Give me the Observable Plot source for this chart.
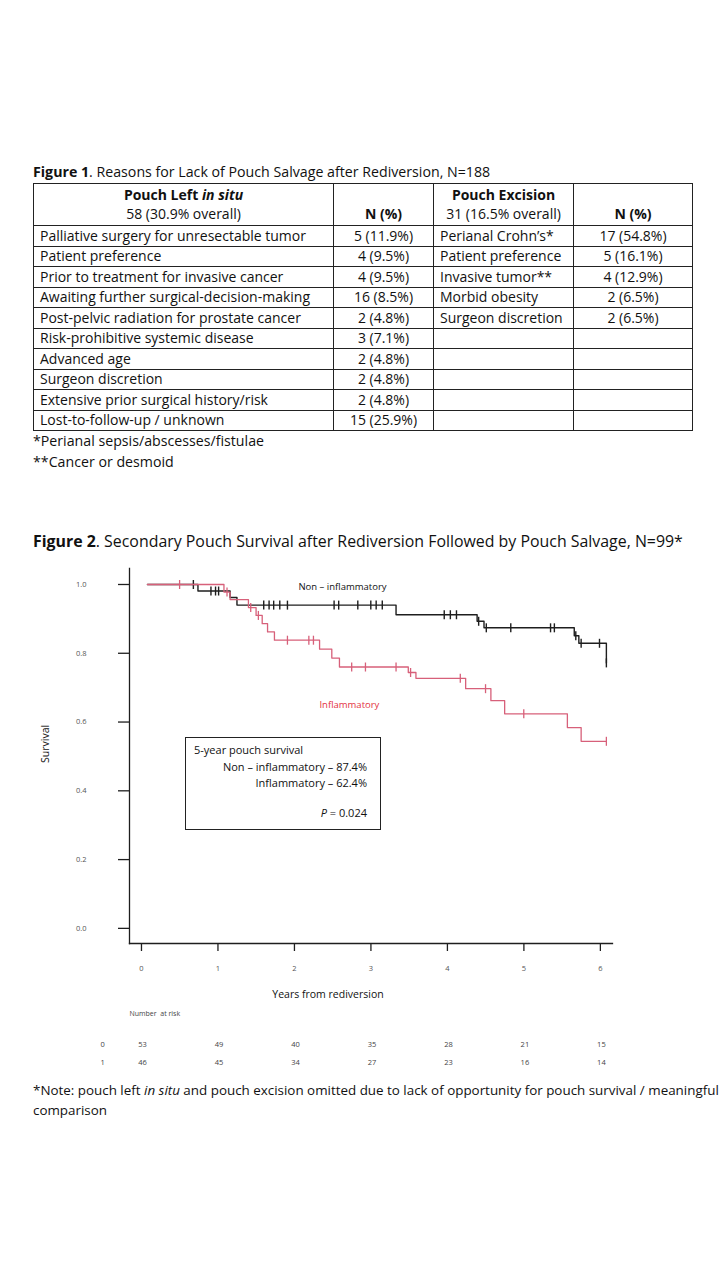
<!DOCTYPE html>
<html><head><meta charset="utf-8">
<script src="https://cdn.jsdelivr.net/npm/d3@7"></script>
<script src="https://cdn.jsdelivr.net/npm/@observablehq/plot@0.6"></script>
<style>
body{margin:0;background:#fff;font-family:"Open Sans",Lato,sans-serif;color:#111;}
#page{position:relative;width:720px;height:1280px;overflow:hidden;background:#fff;}
.cap{position:absolute;left:33px;font-size:14.2px;white-space:nowrap;line-height:18px;}
#tbl{position:absolute;left:33px;top:183px;border-collapse:collapse;table-layout:fixed;font-size:14px;}
#tbl td{border:1px solid #222;padding:0 6px;white-space:nowrap;overflow:hidden;line-height:18px;}
#tbl tr.body td{height:19.5px;}
#tbl tr.head td{height:40px;vertical-align:top;padding-top:1px;line-height:19px;}
.c{text-align:center;}
#chart{position:absolute;left:0;top:560px;}
#box{position:absolute;left:185px;top:737px;width:196px;height:93px;border:1.3px solid #222;font-size:11px;box-sizing:border-box;}
#box div{position:absolute;white-space:nowrap;}
</style></head>
<body><div id="page">
<div class="cap" style="top:163px"><b>Figure 1</b>. Reasons for Lack of Pouch Salvage after Rediversion, N=188</div>
<table id="tbl"></table>
<div class="cap" style="top:432px">*Perianal sepsis/abscesses/fistulae</div>
<div class="cap" style="top:453px">**Cancer or desmoid</div>
<div class="cap" style="top:532px;font-size:15.9px"><b>Figure 2</b>. Secondary Pouch Survival after Rediversion Followed by Pouch Salvage, N=99*</div>
<div id="chart"></div>
<div id="box">
  <div style="left:8px;top:4px">5-year pouch survival</div>
  <div style="right:13px;top:21px">Non – inflammatory – 87.4%</div>
  <div style="right:13px;top:37px">Inflammatory – 62.4%</div>
  <div style="right:13px;top:67px"><i>P</i> = 0.024</div>
</div>
<div class="cap" style="top:1080px;font-size:13.4px;line-height:20px">*Note: pouch left <i>in situ</i> and pouch excision omitted due to lack of opportunity for pouch survival / meaningful<br>comparison</div>
</div>
<script>
// ---- Figure 1 table data ----
const leftReasons = ["Palliative surgery for unresectable tumor","Patient preference","Prior to treatment for invasive cancer","Awaiting further surgical-decision-making","Post-pelvic radiation for prostate cancer","Risk-prohibitive systemic disease","Advanced age","Surgeon discretion","Extensive prior surgical history/risk","Lost-to-follow-up / unknown"];
const leftN = ["5 (11.9%)","4 (9.5%)","4 (9.5%)","16 (8.5%)","2 (4.8%)","3 (7.1%)","2 (4.8%)","2 (4.8%)","2 (4.8%)","15 (25.9%)"];
const rightReasons = ["Perianal Crohn’s*","Patient preference","Invasive tumor**","Morbid obesity","Surgeon discretion"];
const rightN = ["17 (54.8%)","5 (16.1%)","4 (12.9%)","2 (6.5%)","2 (6.5%)"];

// ---- Figure 2 data ----
const nonInfTimes = [0, 0.66, 1.08, 1.17, 3.25, 4.31, 4.40, 5.58, 5.64, 6.00];
const nonInfSurv  = [1, 0.981, 0.962, 0.940, 0.912, 0.893, 0.874, 0.851, 0.829, 0.772];
const nonInfCensor = [0.60, 0.83, 0.89, 0.93, 1.52, 1.59, 1.65, 1.73, 1.83, 2.44, 2.50, 2.75, 2.92, 2.99, 3.07, 3.88, 3.96, 4.04, 4.33, 4.43, 4.75, 5.27, 5.32, 5.60, 5.67, 5.91, 6.00];
const infTimes = [0, 1.00, 1.08, 1.32, 1.42, 1.50, 1.57, 1.66, 2.25, 2.41, 2.51, 3.41, 3.51, 4.16, 4.49, 4.67, 5.49, 5.67, 6.00];
const infSurv  = [1, 0.978, 0.956, 0.933, 0.910, 0.886, 0.862, 0.838, 0.812, 0.786, 0.760, 0.744, 0.727, 0.697, 0.662, 0.624, 0.584, 0.544, 0.544];
const infCensor = [0.42, 1.04, 1.35, 1.45, 1.83, 2.11, 2.17, 2.67, 2.85, 3.25, 3.44, 4.09, 4.42, 4.92, 6.00];
const yearTicks = [0, 1, 2, 3, 4, 5, 6];
const survTicks = [0, 0.2, 0.4, 0.6, 0.8, 1.0];
const riskGroup0 = [53, 49, 40, 35, 28, 21, 15];
const riskGroup1 = [46, 45, 34, 27, 23, 16, 14];
const curveLabels = [
  {t: 2.55, s: 0.993, text: "Non – inflammatory", color: "#111"},
  {t: 2.64, s: 0.650, text: "Inflammatory", color: "#e3323f"}
];

// build table
const tbl = document.getElementById("tbl");
const colW = [300, 100, 140, 119];
const cg = document.createElement("colgroup");
colW.forEach(w => { const c = document.createElement("col"); c.style.width = w + "px"; cg.appendChild(c); });
tbl.appendChild(cg);
const head = document.createElement("tr"); head.className = "head";
head.innerHTML = `<td class="c"><b>Pouch Left <i>in situ</i></b><br>58 (30.9% overall)</td>
<td class="c">&nbsp;<br><b>N (%)</b></td>
<td class="c"><b>Pouch Excision</b><br>31 (16.5% overall)</td>
<td class="c">&nbsp;<br><b>N (%)</b></td>`;
tbl.appendChild(head);
leftReasons.forEach((r, i) => {
  const tr = document.createElement("tr"); tr.className = "body";
  tr.innerHTML = `<td>${r}</td><td class="c">${leftN[i]}</td><td>${rightReasons[i] ?? ""}</td><td class="c">${rightN[i] ?? ""}</td>`;
  tbl.appendChild(tr);
});

// step lookup for censor marks
function levelAt(times, surv, t) {
  let v = surv[0];
  for (let i = 0; i < times.length; i++) if (times[i] <= t) v = surv[i];
  return v;
}
const nonInfLine = nonInfTimes.map((t, i) => ({t, s: nonInfSurv[i]}));
const infLine = infTimes.map((t, i) => ({t, s: infSurv[i]}));
const nonInfCens = nonInfCensor.map(t => ({t, s: levelAt(nonInfTimes, nonInfSurv, t)}));
const infCens = infCensor.map(t => ({t, s: levelAt(infTimes, infSurv, t)}));
const risk0 = yearTicks.map((t, i) => ({t, n: riskGroup0[i]}));
const risk1 = yearTicks.map((t, i) => ({t, n: riskGroup1[i]}));

const vtick = {draw(ctx, size) { const r = Math.sqrt(size / Math.PI); ctx.moveTo(0, -r); ctx.lineTo(0, r); }};
const black = "#1e1e1e", red = "#d7607a";

const chart = Plot.plot({
  width: 720, height: 518,
  marginLeft: 129, marginRight: 108, marginTop: 8, marginBottom: 135,
  style: {fontFamily: "'Open Sans', Lato, sans-serif", background: "white", overflow: "visible"},
  x: {domain: [-0.235, 6.08]},
  y: {domain: [-0.044, 1.0465]},
  marks: [
    Plot.frame({anchor: "left", stroke: black, strokeWidth: 1.3}),
    Plot.frame({anchor: "bottom", stroke: black, strokeWidth: 1.3}),
    Plot.axisY({ticks: survTicks, tickFormat: d3.format(".1f"), tickSize: 11, tickPadding: 32, label: null, stroke: black, strokeWidth: 1.3, fill: "#555", fontSize: 7.5}),
    Plot.axisX({ticks: yearTicks, tickFormat: d3.format("d"), tickSize: 8, tickPadding: 14, label: null, stroke: black, strokeWidth: 1.3, fill: "#555", fontSize: 7.5, dx: -6}),
    Plot.line(nonInfLine, {x: "t", y: "s", curve: "step-after", stroke: black, strokeWidth: 1.4}),
    Plot.dot(nonInfCens, {x: "t", y: "s", symbol: vtick, r: 4.5, stroke: black, strokeWidth: 1.4}),
    Plot.line(infLine, {x: "t", y: "s", curve: "step-after", stroke: red, strokeWidth: 1.3}),
    Plot.dot(infCens, {x: "t", y: "s", symbol: vtick, r: 4.5, stroke: red, strokeWidth: 1.3}),
    Plot.text(curveLabels, {x: "t", y: "s", text: "text", fill: "color", fontSize: 9.5}),
    Plot.text(["Years from rediversion"], {frameAnchor: "bottom", dy: 54, dx: -43, fontSize: 10.5, fill: "#111"}),
    Plot.text(["Survival"], {frameAnchor: "left", rotate: -90, dx: -84, dy: 7, fontSize: 10.5, fill: "#111"}),
    Plot.text(["Number  at risk"], {frameAnchor: "bottom-left", textAnchor: "start", dx: 0, dy: 72, fontSize: 7, fill: "#444"}),
    Plot.text(["0"], {frameAnchor: "bottom-left", dx: -29, dy: 103, fontSize: 7.5, fill: "#444"}),
    Plot.text(["1"], {frameAnchor: "bottom-left", dx: -29, dy: 121, fontSize: 7.5, fill: "#444"}),
    Plot.text(risk0, {x: "t", text: "n", frameAnchor: "bottom", dy: 103, dx: -5, fontSize: 7.5, fill: "#444"}),
    Plot.text(risk1, {x: "t", text: "n", frameAnchor: "bottom", dy: 121, dx: -5, fontSize: 7.5, fill: "#444"})
  ]
});
document.getElementById("chart").appendChild(chart);
</script>
</body></html>
